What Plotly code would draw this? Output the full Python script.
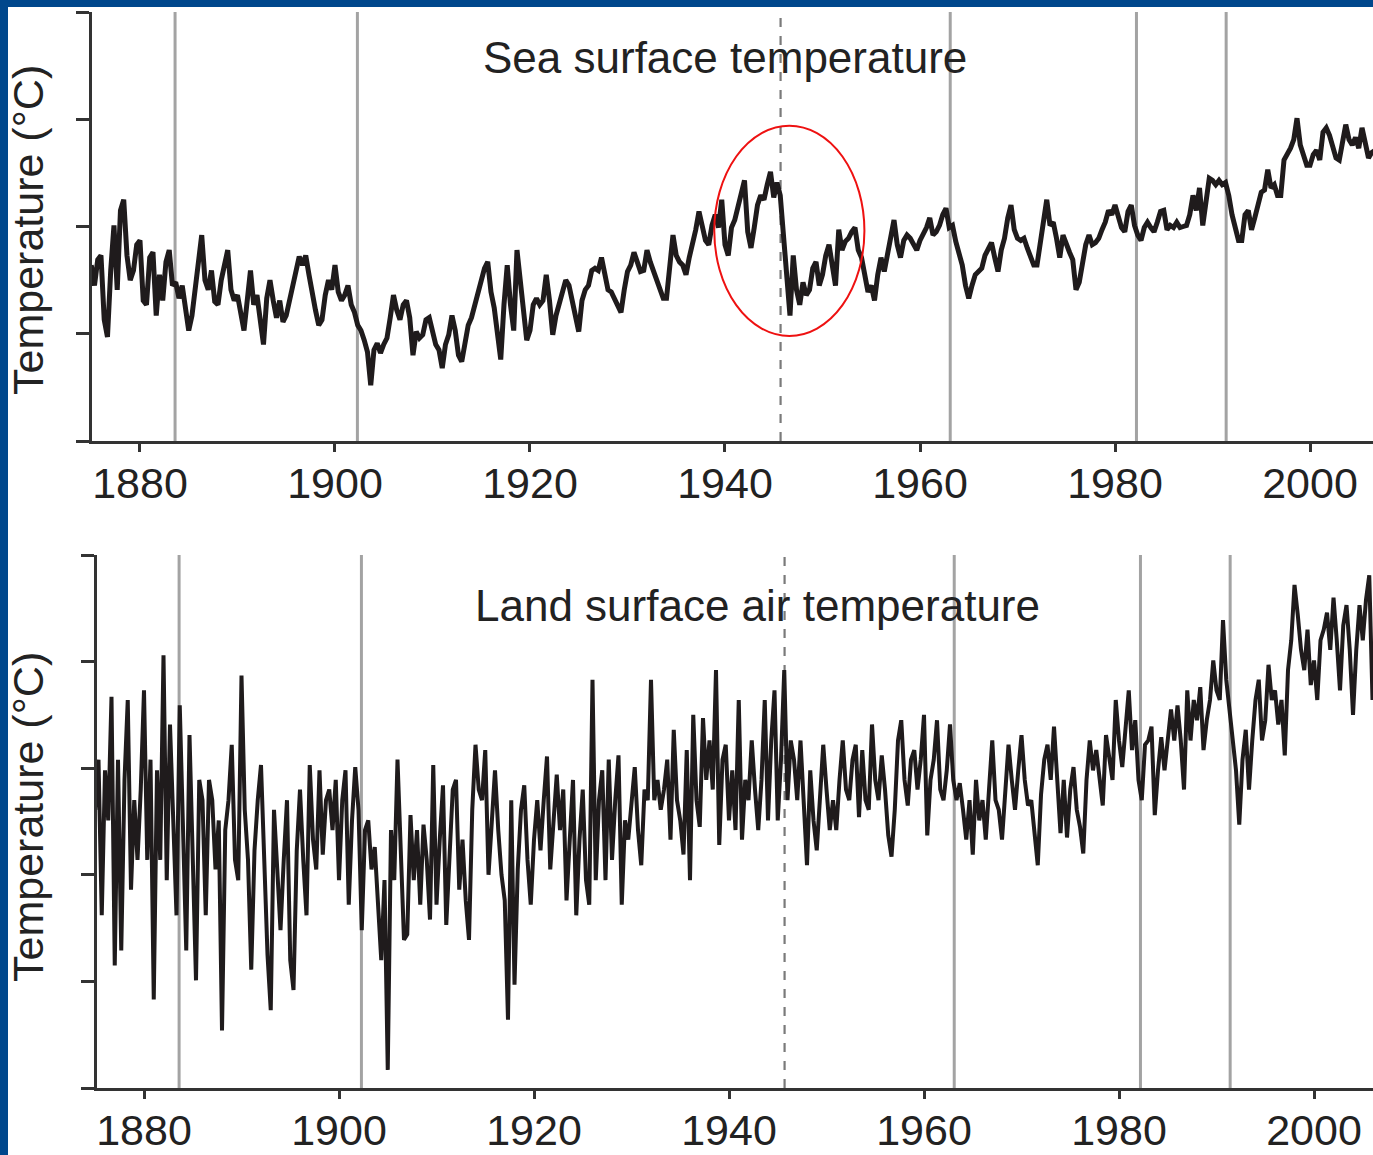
import plotly.graph_objects as go

# ---------------- data (arbitrary anomaly units = tick spacing) -------------
# Sea surface temperature, 3 samples per year starting 1875.0
sst_1870s = [1.64,1.45,1.69, 1.73,1.13,0.97, 1.59,2.01,1.41, 2.15,2.25,1.73, 1.50,1.59,1.83]
sst_1880s = [1.87,1.31,1.27, 1.71,1.76,1.17, 1.55,1.31,1.67, 1.78,1.45,1.48, 1.33,1.45,1.22,
             1.03,1.17,1.45, 1.64,1.92,1.50, 1.41,1.59,1.30, 1.27,1.50,1.64, 1.78,1.41,1.31]
sst_1890s = [1.36,1.17,1.03, 1.31,1.59,1.27, 1.36,1.13,0.90, 1.33,1.50,1.31, 1.15,1.31,1.11,
             1.17,1.31,1.41, 1.59,1.72,1.64, 1.73,1.55,1.36, 1.22,1.08,1.13, 1.36,1.50,1.41]
sst_1900s = [1.64,1.39,1.31, 1.36,1.45,1.27, 1.20,1.08,1.03, 0.94,0.83,0.52, 0.85,0.91,0.82,
             0.90,0.96,1.15, 1.36,1.22,1.13, 1.27,1.31,1.15, 0.80,1.02,0.96, 0.99,1.13,1.15]
sst_1910s = [1.03,0.90,0.85, 0.68,0.90,0.99, 1.17,1.03,0.80, 0.74,0.91,1.08, 1.15,1.27,1.41,
             1.52,1.61,1.67, 1.39,1.24,0.99, 0.76,1.27,1.64, 1.27,1.03,1.78, 1.50,1.15,0.94]
sst_1920s = [1.03,1.27,1.33, 1.27,1.31,1.55, 1.31,0.99,1.17, 1.27,1.36,1.50, 1.45,1.31,1.17,
             1.02,1.31,1.41, 1.45,1.59,1.61, 1.59,1.71,1.58, 1.41,1.39,1.33, 1.27,1.20,1.41]
sst_1930s = [1.58,1.64,1.76, 1.67,1.58,1.59, 1.78,1.67,1.58, 1.50,1.43,1.33, 1.33,1.64,1.92,
             1.73,1.67,1.64, 1.55,1.71,1.83, 1.97,2.14,2.01, 1.87,1.83,2.01, 2.11,1.99,2.25]
sst_1940s = [1.83,1.73,1.99, 2.06,2.20,2.34, 2.43,1.95,1.80, 1.99,2.20,2.29, 2.25,2.39,2.51,
             2.27,2.41,2.29, 1.92,1.59,1.17, 1.73,1.41,1.27, 1.48,1.36,1.41, 1.61,1.67,1.45]
sst_1950s = [1.55,1.73,1.83, 1.64,1.45,1.97, 1.78,1.86,1.89, 1.95,1.99,1.78, 1.71,1.55,1.39,
             1.45,1.31,1.55, 1.71,1.58,1.73, 1.87,2.06,1.83, 1.71,1.87,1.92, 1.89,1.83,1.78]
sst_1960s = [1.87,1.92,1.99, 2.08,1.92,1.95, 2.01,2.11,2.17, 1.99,2.01,1.86, 1.73,1.64,1.45,
             1.33,1.45,1.55, 1.58,1.61,1.73, 1.80,1.85,1.71, 1.58,1.78,1.89, 2.08,2.20,1.97]
sst_1970s = [1.89,1.87,1.89, 1.80,1.71,1.64, 1.64,1.87,2.04, 2.25,2.01,2.04, 1.89,1.71,1.92,
             1.83,1.76,1.69, 1.41,1.48,1.67, 1.83,1.92,1.83, 1.85,1.89,1.97, 2.04,2.15,2.11]
sst_1980s = [2.20,2.11,1.99, 1.95,2.14,2.20, 2.01,1.92,1.87, 1.99,2.04,1.99, 1.95,2.04,2.14,
             2.15,1.97,2.01, 1.99,2.04,1.99, 2.00,2.01,2.11, 2.29,2.15,2.36, 2.01,2.25,2.45]
sst_1990s = [2.43,2.39,2.43, 2.39,2.41,2.29, 2.11,2.01,1.87, 1.87,2.11,2.15, 1.97,2.08,2.20,
             2.32,2.34,2.53, 2.36,2.39,2.29, 2.29,2.62,2.67, 2.73,2.81,3.01, 2.76,2.67,2.57]
sst_2000s = [2.57,2.67,2.71, 2.62,2.88,2.92, 2.85,2.73,2.64, 2.62,2.81,2.95, 2.81,2.76,2.83,
             2.73,2.92,2.76, 2.64,2.69,2.71]

# Land surface air temperature, 3 samples per year starting 1875.0
land_1870s = [2.61,3.08,1.62, 2.98,2.51,3.67, 1.15,3.08,1.29, 2.89,3.64,1.86, 2.70,2.14,2.80]
land_1880s = [3.73,2.14,3.08, 0.83,2.98,2.14, 4.06,1.95,3.41, 2.51,1.62,3.59, 2.33,1.29,3.31,
              2.23,1.01,2.89, 2.70,1.62,2.89, 2.70,2.05,2.51, 0.54,2.42,2.70, 3.22,2.14,1.95]
land_1890s = [3.87,2.61,2.14, 1.11,2.23,2.70, 3.03,2.14,1.25, 0.73,2.61,2.05, 1.48,2.14,2.70,
              1.20,0.92,2.23, 2.80,2.14,1.62, 3.03,2.33,2.05, 2.98,2.19,2.70, 2.80,2.42,2.89]
land_1900s = [1.95,2.70,2.98, 1.72,2.51,3.01, 2.61,1.48,2.42, 2.51,2.05,2.26, 1.76,1.20,1.95,
              0.17,2.42,1.95, 3.08,2.23,1.39, 1.44,2.56,1.95, 2.42,1.72,2.47, 2.14,1.58,3.03]
land_1910s = [1.72,2.33,2.84, 1.53,2.23,2.80, 2.89,1.86,2.33, 1.76,1.39,2.61, 3.22,2.80,2.70,
              3.17,2.00,2.51, 2.98,2.42,2.00, 1.76,0.64,2.70, 0.97,2.05,2.61, 2.84,2.14,1.72]
land_1920s = [2.33,2.70,2.23, 2.70,3.11,2.05, 2.51,2.94,2.42, 2.80,1.76,2.42, 2.89,1.62,2.33,
              2.80,1.95,1.72, 3.83,1.95,2.70, 2.98,1.95,3.08, 2.14,2.70,3.12, 1.72,2.51,2.33]
land_1930s = [2.70,3.01,2.42, 2.09,2.80,2.70, 3.83,2.70,2.89, 2.61,2.80,3.08, 2.33,3.36,2.70,
              2.51,2.19,3.17, 1.95,3.50,2.70, 2.45,3.47,2.89, 3.26,2.80,3.92, 2.28,3.08,3.22]
land_1940s = [2.51,2.98,2.42, 3.64,2.33,2.89, 2.70,3.26,2.80, 2.42,2.89,3.64, 2.51,3.26,3.73,
              2.51,3.08,3.92, 2.70,3.26,3.08, 2.70,3.26,2.70, 2.09,2.98,2.51, 2.23,2.70,3.22]
land_1950s = [2.80,2.42,2.70, 2.42,2.89,3.26, 2.80,2.70,3.08, 3.22,2.54,3.17, 2.70,2.61,3.41,
              2.89,2.70,3.12, 2.80,2.37,2.17, 2.61,3.26,3.45, 2.89,2.65,3.08, 3.17,2.80,3.08]
land_1960s = [3.50,2.37,2.89, 3.08,3.45,2.80, 2.70,2.98,3.41, 2.89,2.70,2.86, 2.61,2.33,2.70,
              2.19,2.89,2.51, 2.70,2.33,2.80, 3.26,2.70,2.61, 2.33,2.80,3.22, 2.89,2.61,2.98]
land_1970s = [3.31,2.89,2.65, 2.70,2.42,2.09, 2.75,3.08,3.22, 2.89,3.39,2.92, 2.39,2.89,2.35,
              2.80,3.01,2.61, 2.45,2.20,2.89, 3.26,2.98,3.17, 2.89,2.65,3.31, 3.08,2.89,3.64]
land_1980s = [3.26,3.01,3.36, 3.73,3.17,3.45, 2.89,2.70,3.22, 3.26,3.39,2.56, 2.98,3.29,2.98,
              3.26,3.55,3.26, 3.59,3.26,2.80, 3.73,3.26,3.64, 3.45,3.76,3.17, 3.45,3.64,4.01]
land_1990s = [3.73,3.64,4.39, 3.83,3.55,3.26, 2.98,2.47,3.08, 3.36,2.80,3.26, 3.64,3.83,3.26,
              3.45,3.97,3.64, 3.73,3.41,3.64, 3.12,3.92,4.20, 4.72,4.44,4.11, 3.92,4.30,3.78]
land_2000s = [4.01,3.64,4.20, 4.30,4.46,4.11, 4.60,4.20,3.73, 4.34,4.53,4.11, 3.50,4.11,4.53,
              4.20,4.58,4.81, 3.64]

start_year = 1875.0
samples_per_year = 3

eruption_years = [1883.6, 1902.3, 1963.1, 1982.2, 1991.4]
bucket_change_year = 1945.7
ellipse_years = [1938.9, 1954.3]
ellipse_values = [0.98, 2.94]

tick_years = [1880, 1900, 1920, 1940, 1960, 1980, 2000]
sst_title = "Sea surface temperature"
land_title = "Land surface air temperature"
y_title = "Temperature (°C)"

# ---------------- build ----------------
sst = (sst_1870s + sst_1880s + sst_1890s + sst_1900s + sst_1910s + sst_1920s + sst_1930s
       + sst_1940s + sst_1950s + sst_1960s + sst_1970s + sst_1980s + sst_1990s + sst_2000s)
land = (land_1870s + land_1880s + land_1890s + land_1900s + land_1910s + land_1920s + land_1930s
        + land_1940s + land_1950s + land_1960s + land_1970s + land_1980s + land_1990s + land_2000s)
t_sst = [start_year + i / samples_per_year for i in range(len(sst))]
t_land = [start_year + i / samples_per_year for i in range(len(land))]

W, H = 1373, 1155
FONT = "Liberation Sans, Arial, Helvetica, sans-serif"
INK = "#1f1b1c"

fig = go.Figure()
fig.add_trace(go.Scatter(x=t_sst, y=sst, mode="lines", line=dict(color=INK, width=5.0),
                         xaxis="x", yaxis="y", showlegend=False, hoverinfo="skip"))
fig.add_trace(go.Scatter(x=t_land, y=land, mode="lines", line=dict(color=INK, width=4.0),
                         xaxis="x2", yaxis="y2", showlegend=False, hoverinfo="skip"))

axis_common = dict(showgrid=False, zeroline=False, showline=True, linecolor="#333333",
                   linewidth=2.5, ticks="outside", tickcolor="#333333", tickwidth=2.5)

fig.update_layout(
    width=W, height=H,
    margin=dict(l=0, r=0, t=0, b=0),
    paper_bgcolor="white", plot_bgcolor="white",
    font=dict(family=FONT, color="#222222"),
    xaxis=dict(domain=[92 / W, 1.0], range=[1875.08, 2006.46], anchor="y",
               tickvals=tick_years, ticklen=8, ticklabelstandoff=-5,
               tickfont=dict(size=43, family=FONT, color="#222"), **axis_common),
    yaxis=dict(domain=[1 - 441 / H, 1 - 12 / H], range=[0, 4], anchor="x",
               tickvals=[0, 1, 2, 3, 4], ticklen=13, showticklabels=False, **axis_common),
    xaxis2=dict(domain=[97 / W, 1.0], range=[1875.18, 2006.05], anchor="y2",
                tickvals=tick_years, ticklen=8, ticklabelstandoff=-5,
                tickfont=dict(size=43, family=FONT, color="#222"), **axis_common),
    yaxis2=dict(domain=[1 - 1088 / H, 1 - 555 / H], range=[0, 5], anchor="x2",
                tickvals=[0, 1, 2, 3, 4, 5], ticklen=13, showticklabels=False, **axis_common),
)

shapes = []
for xr, yr in (("x", "y domain"), ("x2", "y2 domain")):
    for yv in eruption_years:
        shapes.append(dict(type="line", xref=xr, yref=yr, x0=yv, x1=yv, y0=0, y1=1,
                           line=dict(color="#a3a3a3", width=3), layer="below"))
    shapes.append(dict(type="line", xref=xr, yref=yr, x0=bucket_change_year, x1=bucket_change_year,
                       y0=0, y1=1, line=dict(color="#7a7a7a", width=2.2, dash="dash"), layer="below"))

shapes.append(dict(type="circle", xref="x", yref="y",
                   x0=ellipse_years[0], x1=ellipse_years[1], y0=ellipse_values[0], y1=ellipse_values[1],
                   line=dict(color="#ee1111", width=2)))

# blue frame (top and left edges)
shapes.append(dict(type="rect", xref="paper", yref="paper", x0=0, x1=8 / W, y0=0, y1=1,
                   fillcolor="#00478c", line=dict(width=0), layer="above"))
shapes.append(dict(type="rect", xref="paper", yref="paper", x0=0, x1=1, y0=1 - 7 / H, y1=1,
                   fillcolor="#00478c", line=dict(width=0), layer="above"))
fig.update_layout(shapes=shapes)

annotations = [
    dict(text=sst_title, xref="paper", yref="paper", x=725 / W, y=1 - 58 / H,
         xanchor="center", yanchor="middle", showarrow=False,
         font=dict(size=44, family=FONT, color="#222")),
    dict(text=land_title, xref="paper", yref="paper", x=757 / W, y=1 - 605 / H,
         xanchor="center", yanchor="middle", showarrow=False,
         font=dict(size=44, family=FONT, color="#222")),
    dict(text=y_title, xref="paper", yref="paper", x=28 / W, y=1 - 230 / H, textangle=-90,
         xanchor="center", yanchor="middle", showarrow=False,
         font=dict(size=43, family=FONT, color="#222")),
    dict(text=y_title, xref="paper", yref="paper", x=28 / W, y=1 - 817 / H, textangle=-90,
         xanchor="center", yanchor="middle", showarrow=False,
         font=dict(size=43, family=FONT, color="#222")),
]
fig.update_layout(annotations=annotations)

fig.write_html("out.html", config={"displayModeBar": False},
               post_script="document.body.style.margin='0px';document.body.style.overflow='hidden';")
